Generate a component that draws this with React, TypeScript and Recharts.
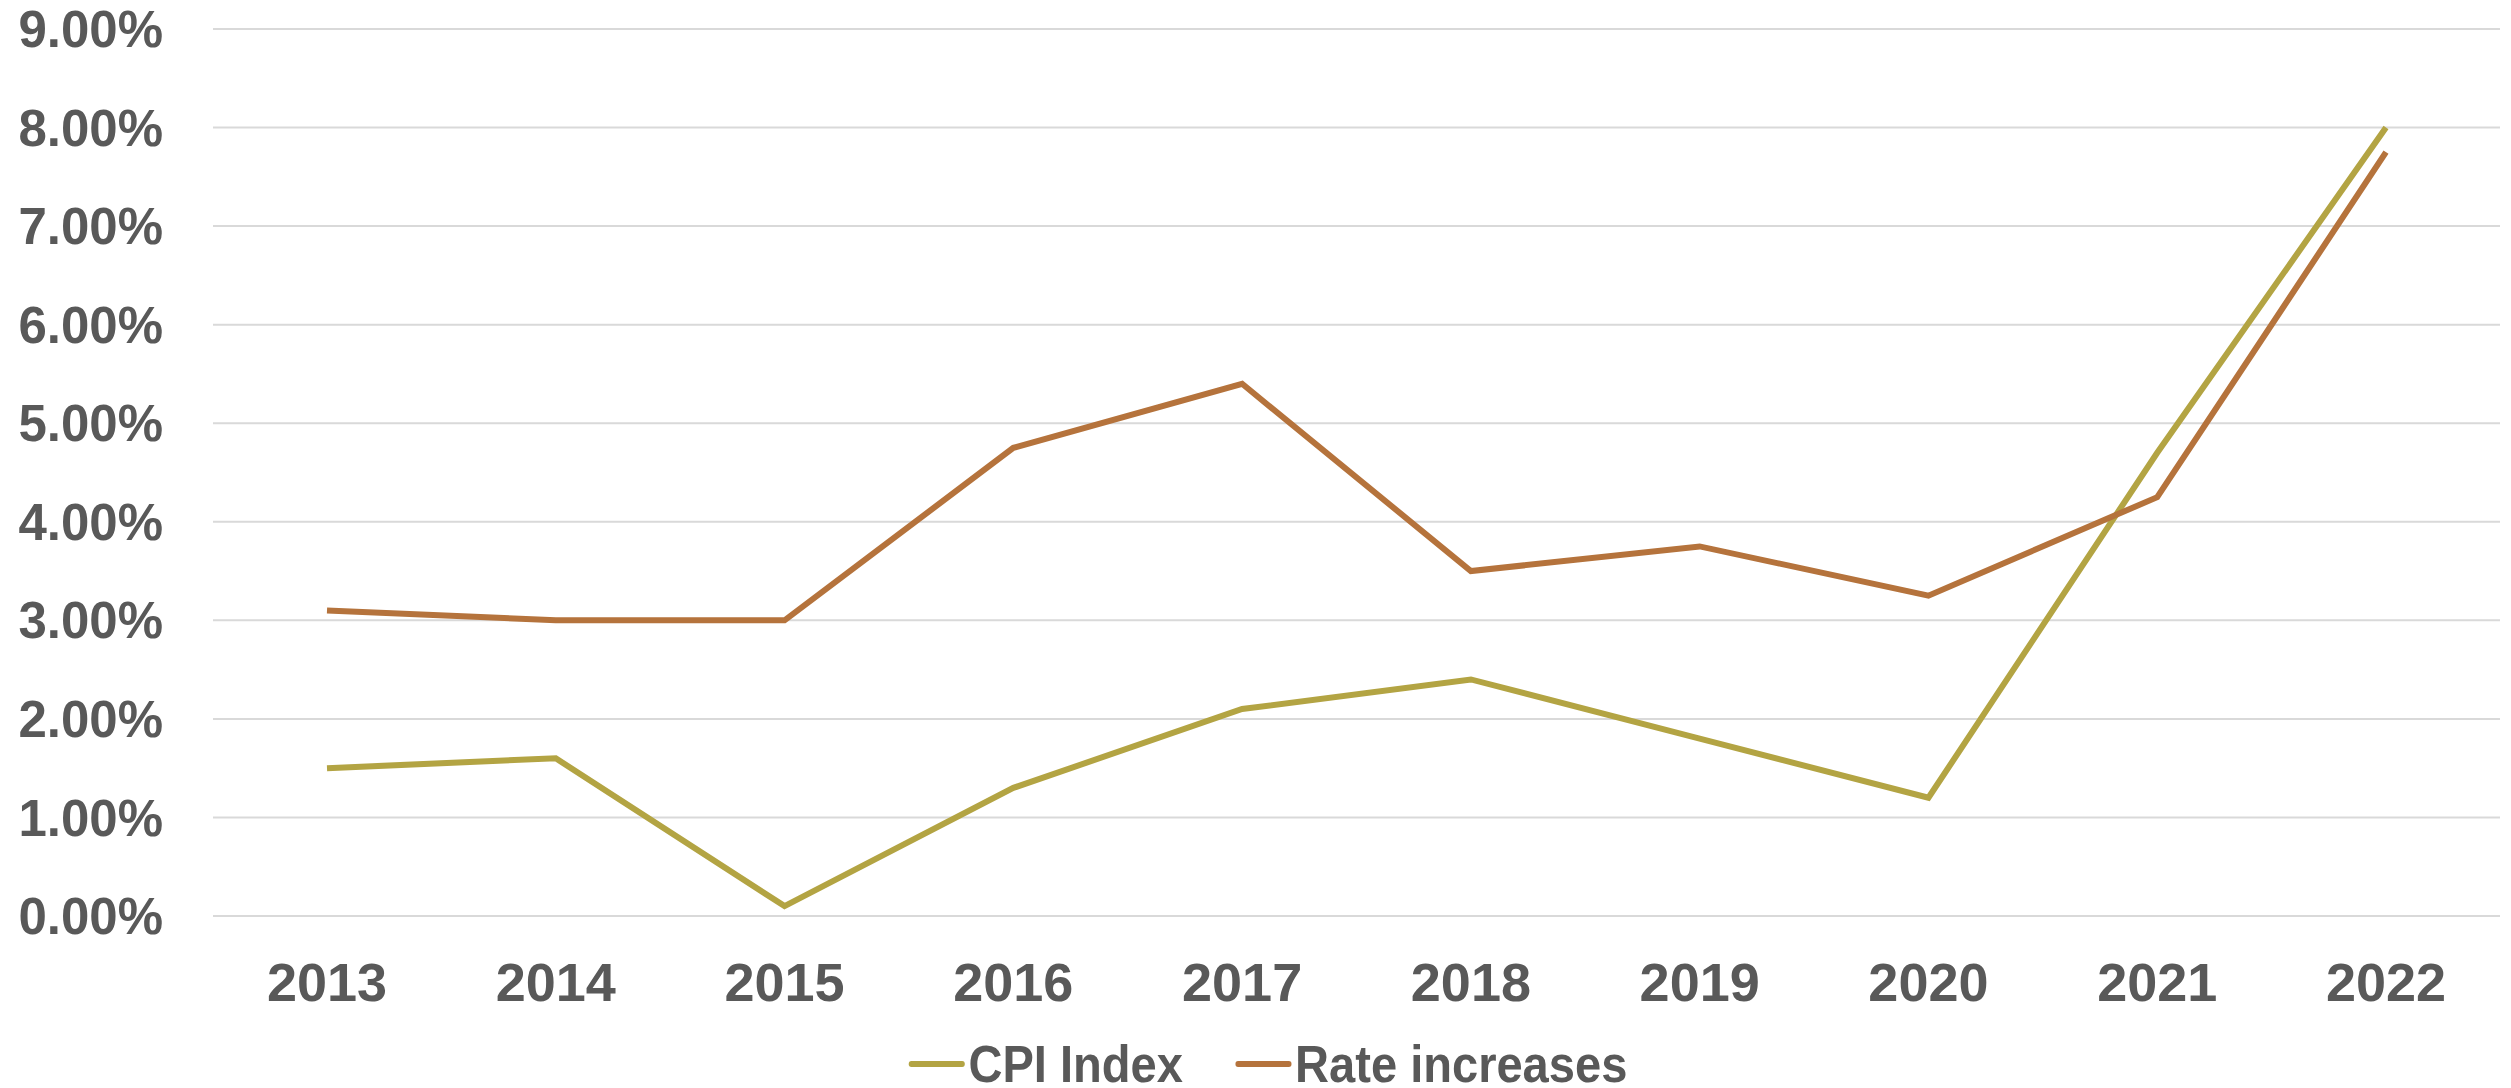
import { LineChart, Line, XAxis, YAxis, CartesianGrid, Legend } from "recharts";

const years = ["2013", "2014", "2015", "2016", "2017", "2018", "2019", "2020", "2021", "2022"];
const cpiIndex = [1.5, 1.6, 0.1, 1.3, 2.1, 2.4, 1.8, 1.2, 4.7, 8.0];
const rateIncreases = [3.1, 3.0, 3.0, 4.75, 5.4, 3.5, 3.75, 3.25, 4.25, 7.75];
const yTicks = [0, 1, 2, 3, 4, 5, 6, 7, 8, 9];

const data = years.map((year, i) => ({
  year,
  cpi: cpiIndex[i],
  rate: rateIncreases[i],
}));

const textColor = "#595959";
const cpiColor = "#B3A443";
const rateColor = "#B5733C";

const legendItems = [
  { label: "CPI Index", color: cpiColor },
  { label: "Rate increases", color: rateColor },
];

// the legend font in the original is a narrow face, so squeeze the row a bit
function ChartLegend() {
  return (
    <div
      style={{
        height: 72,
        boxSizing: "border-box",
        paddingTop: 24,
        display: "flex",
        justifyContent: "center",
        alignItems: "center",
        gap: 58,
        fontFamily: "'Liberation Sans', Arial, sans-serif",
        fontWeight: 700,
        fontSize: 52,
        lineHeight: "48px",
        color: textColor,
        transform: "translateX(18px) scaleX(0.905)",
        transformOrigin: "center center",
      }}
    >
      {legendItems.map((item) => (
        <div key={item.label} style={{ display: "flex", alignItems: "center" }}>
          <span
            style={{
              display: "inline-block",
              width: 62,
              height: 6,
              borderRadius: 3,
              background: item.color,
              marginRight: 4,
            }}
          />
          <span>{item.label}</span>
        </div>
      ))}
    </div>
  );
}

export default function App() {
  const tickStyle = {
    fill: textColor,
    fontFamily: "'Liberation Sans', Arial, sans-serif",
    fontWeight: 700,
  };
  return (
    <div style={{ position: "absolute", left: 0, top: 0, background: "#fff" }}>
      <LineChart
        width={2511}
        height={1088}
        data={data}
        margin={{ top: 29, right: 11, left: 0, bottom: 0 }}
      >
        <CartesianGrid vertical={false} stroke="#D9D9D9" strokeWidth={2} />
        <XAxis
          dataKey="year"
          height={100}
          padding={{ left: 114, right: 114 }}
          axisLine={false}
          tickLine={false}
          tickSize={0}
          tickMargin={47}
          tick={{ ...tickStyle, fontSize: 54 }}
        />
        <YAxis
          width={213}
          domain={[0, 9]}
          ticks={yTicks}
          axisLine={false}
          tickLine={false}
          tickSize={0}
          tickMargin={50}
          tickFormatter={(v: number) => `${v.toFixed(2)}%`}
          tick={{ ...tickStyle, fontSize: 51 }}
        />
        <Legend verticalAlign="bottom" content={() => <ChartLegend />} />
        <Line
          type="linear"
          dataKey="cpi"
          name="CPI Index"
          stroke={cpiColor}
          strokeWidth={6}
          dot={false}
          isAnimationActive={false}
        />
        <Line
          type="linear"
          dataKey="rate"
          name="Rate increases"
          stroke={rateColor}
          strokeWidth={6}
          dot={false}
          isAnimationActive={false}
        />
      </LineChart>
    </div>
  );
}
